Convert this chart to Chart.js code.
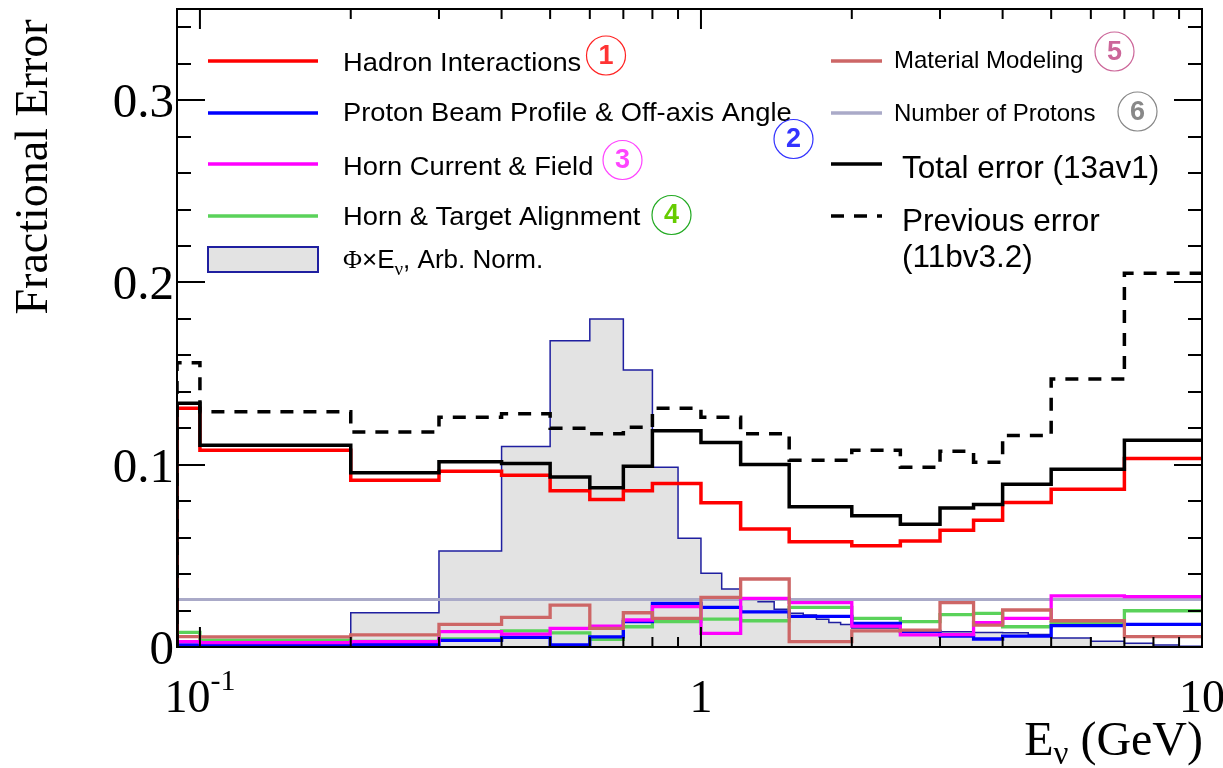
<!DOCTYPE html>
<html>
<head>
<meta charset="utf-8">
<script src="https://cdn.jsdelivr.net/npm/chart.js@4.4.0/dist/chart.umd.min.js"></script>
<style>
  html, body { margin: 0; padding: 0; background: #fff; }
  #wrap { width: 1223px; height: 768px; position: relative; }
</style>
</head>
<body>
<div id="wrap"><canvas id="c" width="1223" height="768"></canvas></div>
<script>
// bin edges of the error histograms (GeV)
const binEdges = [0.09, 0.1, 0.2, 0.3, 0.4, 0.5, 0.6, 0.7, 0.8, 1.0, 1.2, 1.5, 2.0, 2.5, 3.0, 3.5, 4.0, 5.0, 7.0, 10];

const hadron   = [0.131, 0.108, 0.0915, 0.0964, 0.0942, 0.0857, 0.0809, 0.0857, 0.0897, 0.0791, 0.0648, 0.0577, 0.0555, 0.0581, 0.0641, 0.0696, 0.0793, 0.0866, 0.1034];
const beam     = [0.0011, 0.0008, 0.0015, 0.0036, 0.0053, 0.0011, 0.0056, 0.0139, 0.0239, 0.0217, 0.0193, 0.0168, 0.0130, 0.0085, 0.0060, 0.0044, 0.0060, 0.0117, 0.0124];
const hornCur  = [0.0029, 0.0024, 0.0030, 0.0084, 0.0071, 0.0102, 0.0115, 0.0148, 0.0221, 0.0075, 0.0267, 0.0243, 0.0115, 0.0066, 0.0068, 0.0133, 0.0157, 0.0281, 0.0276];
const hornAlign= [0.0080, 0.0038, 0.0031, 0.0044, 0.0089, 0.0078, 0.0042, 0.0111, 0.0139, 0.0153, 0.0144, 0.0217, 0.0157, 0.0139, 0.0178, 0.0184, 0.0111, 0.0133, 0.0199];
const material = [0.0057, 0.0055, 0.0066, 0.0124, 0.0163, 0.0230, 0.0102, 0.0188, 0.0157, 0.0272, 0.0373, 0.0029, 0.0088, 0.0093, 0.0243, 0.0120, 0.0203, 0.0144, 0.0057];
const nProtons = [0.026, 0.026, 0.026, 0.026, 0.026, 0.026, 0.026, 0.026, 0.026, 0.026, 0.026, 0.026, 0.026, 0.026, 0.026, 0.026, 0.026, 0.026, 0.026];
const total    = [0.1337, 0.1107, 0.0956, 0.1016, 0.1007, 0.0933, 0.0873, 0.0992, 0.1186, 0.1122, 0.1001, 0.0769, 0.0720, 0.0674, 0.0763, 0.0782, 0.0893, 0.0975, 0.1134];
const previous = [0.156, 0.129, 0.118, 0.126, 0.128, 0.120, 0.117, 0.1205, 0.131, 0.126, 0.117, 0.1025, 0.108, 0.0986, 0.1074, 0.1014, 0.116, 0.147, 0.205];

// flux x E, arbitrary normalisation, finer bins
const fluxEdges = [0.09, 0.2, 0.3, 0.4, 0.5, 0.6, 0.7, 0.8, 0.9, 1.0, 1.1, 1.2, 1.3, 1.4, 1.5, 1.6, 1.7, 1.8, 1.9, 2.0, 2.5, 3.0, 3.5, 4.0, 4.5, 5.0, 6.0, 7.0, 8.0, 9.0, 10];
const flux      = [0, 0.0188, 0.0526, 0.110, 0.168, 0.180, 0.152, 0.0986, 0.0597, 0.0405, 0.0318, 0.0265, 0.0248, 0.0207, 0.0185, 0.0175, 0.0152, 0.0135, 0.0124, 0.0104, 0.0088, 0.0084, 0.0080, 0.0078, 0.0068, 0.0049, 0.0031, 0.0020, 0.0011, 0.0004];

// axis ticks
const xMajorTicks = [0.1, 1, 10];
const xMinorTicks = [0.2, 0.3, 0.4, 0.5, 0.6, 0.7, 0.8, 0.9, 2, 3, 4, 5, 6, 7, 8, 9];
const xTickLabels = [['10', '-1'], ['1', ''], ['10', '']];
const yMajorTicks = [0, 0.1, 0.2, 0.3];
const yTickLabels = ['0', '0.1', '0.2', '0.3'];
const yMinorStep = 0.02;

function steps(edges, vals) {
  const pts = [{x: edges[0], y: 0}];
  vals.forEach((v, i) => pts.push({x: edges[i], y: v}));
  pts.push({x: edges[edges.length - 1], y: vals[vals.length - 1]});
  return pts;
}

function hist(label, edges, vals, color, width, order, extra) {
  return Object.assign({
    label: label,
    data: steps(edges, vals),
    borderColor: color,
    borderWidth: width,
    stepped: 'before',
    pointRadius: 0,
    fill: false,
    order: order
  }, extra || {});
}

const FONT_SANS = '"Liberation Sans", Arial, sans-serif';
const FONT_SERIF = '"Liberation Serif", "Times New Roman", serif';

// text stretched a little horizontally, like the original's legend font
function wideText(ctx, t, x, y, sx) {
  ctx.save();
  ctx.translate(x, y);
  ctx.scale(sx, 1);
  ctx.fillText(t, 0, 0);
  ctx.restore();
}

const frame = {
  id: 'frame',
  afterDatasetsDraw(chart) {
    const {ctx, chartArea: a, scales: {x, y}} = chart;
    ctx.save();
    ctx.strokeStyle = '#000';
    ctx.lineWidth = 2;
    ctx.beginPath();
    xMajorTicks.forEach(v => {
      const px = x.getPixelForValue(v);
      ctx.moveTo(px, a.bottom); ctx.lineTo(px, a.bottom - 20);
      ctx.moveTo(px, a.top); ctx.lineTo(px, a.top + 20);
    });
    xMinorTicks.forEach(v => {
      const px = x.getPixelForValue(v);
      ctx.moveTo(px, a.bottom); ctx.lineTo(px, a.bottom - 10);
      ctx.moveTo(px, a.top); ctx.lineTo(px, a.top + 10);
    });
    for (let k = 0; k * yMinorStep <= y.max + 1e-9; k++) {
      const v = k * yMinorStep;
      const len = (k % 5 === 0) ? 28 : 14;
      const py = Math.round(y.getPixelForValue(v));
      ctx.moveTo(a.left, py); ctx.lineTo(a.left + len, py);
      ctx.moveTo(a.right, py); ctx.lineTo(a.right - len, py);
    }
    ctx.stroke();
    ctx.strokeRect(a.left, a.top, a.right - a.left, a.bottom - a.top);
    ctx.restore();
  },
  afterDraw(chart) {
    const {ctx, scales: {x, y}} = chart;
    ctx.save();
    ctx.fillStyle = '#000';
    ctx.textBaseline = 'alphabetic';
    // y tick labels
    ctx.font = '49px ' + FONT_SERIF;
    ctx.textAlign = 'right';
    yMajorTicks.forEach((v, i) => {
      ctx.fillText(yTickLabels[i], 174, y.getPixelForValue(v) + 17);
    });
    // x tick labels
    ctx.textAlign = 'left';
    xMajorTicks.forEach((v, i) => {
      const [base, sup] = xTickLabels[i];
      ctx.font = '46px ' + FONT_SERIF;
      const wb = ctx.measureText(base).width;
      ctx.font = '30px ' + FONT_SERIF;
      const ws = sup ? ctx.measureText(sup).width : 0;
      const x0 = x.getPixelForValue(v) - (wb + ws) / 2;
      ctx.font = '46px ' + FONT_SERIF;
      ctx.fillText(base, x0, 712);
      if (sup) { ctx.font = '30px ' + FONT_SERIF; ctx.fillText(sup, x0 + wb, 690); }
    });
    // axis titles
    ctx.font = '46px ' + FONT_SERIF;
    ctx.save();
    ctx.translate(47, 167);
    ctx.rotate(-Math.PI / 2);
    ctx.textAlign = 'center';
    ctx.fillText('Fractional Error', 0, 0);
    ctx.restore();
    ctx.font = '48px ' + FONT_SERIF;
    const wE = ctx.measureText('E').width, wG = ctx.measureText(' (GeV)').width;
    ctx.font = '33px ' + FONT_SERIF;
    const wN = ctx.measureText('ν').width;
    let tx = 1203 - wE - wN - wG;
    ctx.font = '48px ' + FONT_SERIF;
    ctx.fillText('E', tx, 755); tx += wE;
    ctx.font = '33px ' + FONT_SERIF;
    ctx.fillText('ν', tx, 764); tx += wN;
    ctx.font = '48px ' + FONT_SERIF;
    ctx.fillText(' (GeV)', tx, 755);

    // legend, left column
    const leftRows = [
      ['Hadron Interactions', '#ff0000', 61, 71],
      ['Proton Beam Profile & Off-axis Angle', '#0000ff', 113, 121],
      ['Horn Current & Field', '#ff00ff', 164, 175],
      ['Horn & Target Alignment', '#5ad25a', 216, 225]
    ];
    leftRows.forEach(([t, c, ly, by]) => {
      ctx.strokeStyle = c; ctx.lineWidth = 3.5; ctx.setLineDash([]);
      ctx.beginPath(); ctx.moveTo(208, ly); ctx.lineTo(318, ly); ctx.stroke();
      ctx.fillStyle = '#000'; ctx.font = '26px ' + FONT_SANS;
      wideText(ctx, t, 343, by, 1.05);
    });
    ctx.fillStyle = '#e3e3e3';
    ctx.fillRect(208, 247, 110, 25);
    ctx.strokeStyle = '#1f1fa0'; ctx.lineWidth = 2;
    ctx.strokeRect(208, 247, 110, 25);
    ctx.fillStyle = '#000';
    let fx = 343;
    ctx.font = '26px ' + FONT_SERIF; ctx.fillText('Φ', fx, 268); fx += ctx.measureText('Φ').width;
    ctx.font = '26px ' + FONT_SANS; ctx.fillText('×E', fx, 268); fx += ctx.measureText('×E').width;
    ctx.font = '19px ' + FONT_SERIF; ctx.fillText('ν', fx, 275); fx += ctx.measureText('ν').width;
    ctx.font = '26px ' + FONT_SANS; ctx.fillText(', Arb. Norm.', fx, 268);

    // legend, right column
    const rightRows = [
      ['Material Modeling', '#cd6666', 61, 68, 894, 24, []],
      ['Number of Protons', '#aaaac8', 113, 121, 894, 24, []],
      ['Total error (13av1)', '#000', 164, 178, 902, 31.5, []],
      ['Previous error', '#000', 216, 231, 902, 31.5, [13, 10]]
    ];
    rightRows.forEach(([t, c, ly, by, tx0, fs, dash]) => {
      ctx.strokeStyle = c; ctx.lineWidth = 3.5; ctx.setLineDash(dash);
      ctx.beginPath(); ctx.moveTo(831, ly); ctx.lineTo(882, ly); ctx.stroke();
      ctx.setLineDash([]);
      ctx.fillStyle = '#000'; ctx.font = fs + 'px ' + FONT_SANS;
      ctx.fillText(t, tx0, by);
    });
    ctx.fillText('(11bv3.2)', 902, 267);

    // circled numbers
    const marks = [
      ['1', 606, 55.5, '#ff3333', '#ff2222'],
      ['2', 793.5, 139, '#3333ff', '#3333ff'],
      ['3', 622.5, 160, '#ff44ff', '#ff44ff'],
      ['4', 671.5, 215, '#66cc00', '#22aa22'],
      ['5', 1114.5, 51.5, '#cc6699', '#cc6699'],
      ['6', 1137.5, 111.5, '#888888', '#888888']
    ];
    marks.forEach(([n, cx, cy, tc, rc]) => {
      ctx.strokeStyle = rc; ctx.lineWidth = 1.2;
      ctx.beginPath(); ctx.arc(cx, cy, 19.5, 0, Math.PI * 2); ctx.stroke();
      ctx.fillStyle = tc; ctx.font = 'bold 27px ' + FONT_SANS;
      ctx.textAlign = 'center'; ctx.textBaseline = 'middle';
      ctx.fillText(n, cx, cy + 1);
      ctx.textAlign = 'left'; ctx.textBaseline = 'alphabetic';
    });
    ctx.restore();
  }
};

new Chart(document.getElementById('c'), {
  type: 'line',
  data: {
    datasets: [
      hist('Flux', fluxEdges, flux, '#1f1fa0', 1.5, 10, {fill: 'origin', backgroundColor: '#e3e3e3'}),
      hist('Number of Protons', binEdges, nProtons, '#aaaac8', 3, 9),
      hist('Horn & Target Alignment', binEdges, hornAlign, '#5ad25a', 3.3, 8),
      hist('Proton Beam Profile & Off-axis Angle', binEdges, beam, '#0000ff', 3.3, 7),
      hist('Horn Current & Field', binEdges, hornCur, '#ff00ff', 3.3, 6),
      hist('Material Modeling', binEdges, material, '#cd6666', 3.3, 5),
      hist('Hadron Interactions', binEdges, hadron, '#ff0000', 3.5, 4),
      hist('Total error (13av1)', binEdges, total, '#000000', 3.5, 3),
      hist('Previous error (11bv3.2)', binEdges, previous, '#000000', 3.5, 2, {borderDash: [13, 10]})
    ]
  },
  options: {
    responsive: false,
    animation: false,
    devicePixelRatio: 1,
    layout: { padding: { left: 177, right: 21, top: 9, bottom: 121 } },
    scales: {
      x: { type: 'logarithmic', min: 0.09, max: 10, display: false },
      y: { type: 'linear', min: 0, max: 0.35, display: false }
    },
    plugins: { legend: { display: false }, tooltip: { enabled: false } },
    elements: { line: { tension: 0 } }
  },
  plugins: [frame]
});
</script>
</body>
</html>
